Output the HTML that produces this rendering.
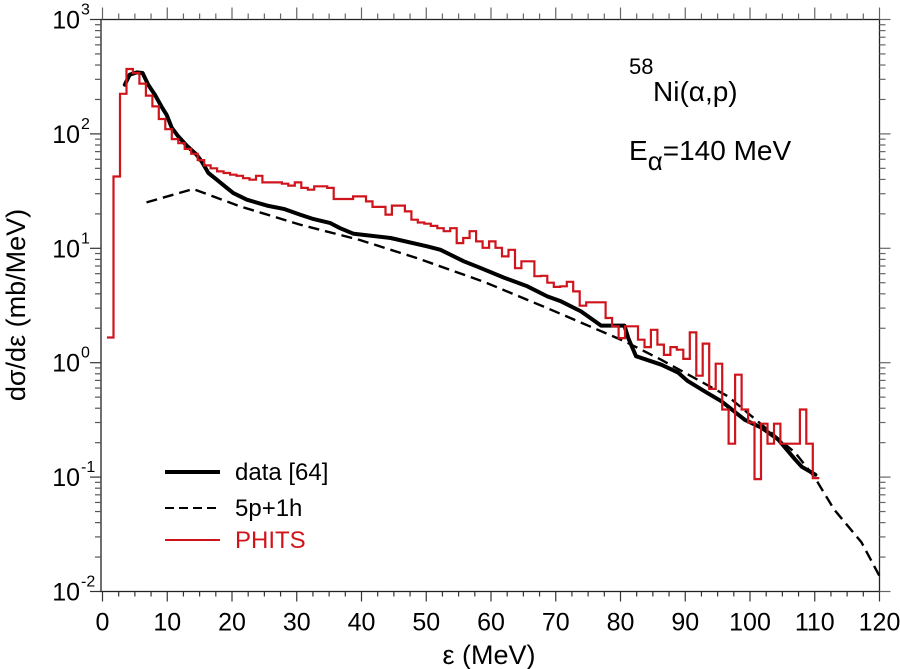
<!DOCTYPE html>
<html><head><meta charset="utf-8"><style>
html,body{margin:0;padding:0;background:#fff;}
svg{display:block;font-family:"Liberation Sans",Arial,sans-serif;}
</style></head><body>
<svg id="chart" width="900" height="669" viewBox="0 0 900 669" xmlns="http://www.w3.org/2000/svg">
<g id="axes"></g>
<g id="series"></g>
<g>
  <line x1="165" y1="472" x2="220" y2="472" stroke="#000" stroke-width="4"/>
  <text x="235" y="480" font-size="24">data [64]</text>
  <line x1="165" y1="508" x2="220" y2="508" stroke="#000" stroke-width="2" stroke-dasharray="9,5"/>
  <text x="235" y="516" font-size="24">5p+1h</text>
  <line x1="165" y1="540" x2="220" y2="540" stroke="#d0141c" stroke-width="2"/>
  <text x="235" y="548" font-size="24" fill="#d0141c">PHITS</text>
</g>
<g>
  <text x="629" y="74" font-size="22">58</text>
  <text x="653" y="101" font-size="28">Ni(α,p)</text>
  <text x="629" y="160" font-size="28">E<tspan font-size="26" dy="10">α</tspan><tspan dy="-10">=140 MeV</tspan></text>
</g>
<text transform="translate(25,305) rotate(-90)" text-anchor="middle" font-size="27">dσ/dε (mb/MeV)</text>
<text x="489" y="664" text-anchor="middle" font-size="27">ε (MeV)</text>
</svg>
<script>
// PHITS histogram: 1-MeV bins starting at binStart
const binStart = 0.7;
const phitsValues = [1.66,42.4,224,369,341,275,216,174,135,110,90,83,74,67,59,53,50,47,45.5,44,43,41,39.8,43,37.7,37.7,37.7,36.7,35.3,37.7,33.7,32.5,34.8,34.8,33.7,27,27,27,28.4,28.4,25.7,23,23,19.7,23.6,23.6,21,17.8,16.8,16.4,15.7,15,14.1,15,11.1,12.3,14.1,11.5,10.1,11.5,10.1,8.5,9.7,6.7,7.7,7.7,5.7,5.75,5.0,4.6,4.65,5.1,4.2,3.15,3.37,3.37,3.37,2.46,2.08,1.64,2.08,2.08,1.59,1.37,1.94,1.44,1.17,1.37,1.30,1.08,1.84,0.77,1.47,0.59,0.98,0.39,0.196,0.785,0.39,0.30,0.096,0.293,0.196,0.293,0.196,0.196,0.196,0.39,0.196,0.098];
// experimental data curve
const dataE = [3.45,4.2,5.3,6.2,7.06,8.1,9.1,9.9,10.7,11.7,13,14.5,15.3,16.35,17.65,18.9,20.2,22.3,25.4,28,30.5,32.6,35.2,36.7,38.8,39.8,44.5,50.2,52.2,55.8,57.9,62.0,65.6,68.7,70.8,73.9,77.0,80.6,81.2,82.4,86.3,88.9,90.4,93.5,95.6,99.2,101.8,104.4,107.0,108.0,110.1];
const dataV = [269,329,345,341,269,220,174,147,113,95,79,66,57.5,45.5,39.8,34.8,30.4,26.6,23.6,22.1,19.7,18.0,16.6,15.0,13.4,13.2,12.3,10.4,9.7,7.7,6.9,5.55,4.65,3.8,3.44,2.81,2.11,2.11,1.64,1.14,0.96,0.82,0.69,0.54,0.46,0.317,0.27,0.212,0.142,0.123,0.105];
// 5p+1h calculation
const calcE = [6.8,14.0,21.2,30.5,39.8,48.6,58.9,69.3,80.6,86.3,96.6,107,110,113,117.2,120.2];
const calcV = [25.2,33,23.3,16.1,11.8,8.2,5.1,2.9,1.54,1.06,0.507,0.163,0.099,0.052,0.027,0.013];
const xTicks = [0,10,20,30,40,50,60,70,80,90,100,110,120];
const yExps = [-2,-1,0,1,2,3];

const NS = "http://www.w3.org/2000/svg";
const L = 101, R = 879.5, T = 19.5, B = 591.5;
const X0 = 102.5;
function sx(e){ return X0 + (e) * (R - X0) / 120; }
function sy(v){ return B - (Math.log10(v) + 2) * (B - T) / 5; }
function mk(tag, attrs, parent){ const el = document.createElementNS(NS, tag); for (const k in attrs) el.setAttribute(k, attrs[k]); parent.appendChild(el); return el; }
const axes = document.getElementById('axes');
const series = document.getElementById('series');

const frame = mk('rect', {x:L, y:T, width:R-L, height:B-T, fill:'none', stroke:'#222', 'stroke-width':1.3}, axes);



for (let e = 0; e <= 120.01; e += 2.5) {
  const major = Math.abs(e % 10) < 0.01;
  const len = major ? 10 : 5;
  const x = sx(e);
  const t1 = mk('line', {x1:x, y1:B, x2:x, y2:B+len, stroke:'#333', 'stroke-width':1.2}, axes);
  
  
  const t2 = mk('line', {x1:x, y1:T, x2:x, y2:T-(major?12:6), stroke:'#666', 'stroke-width':1.2}, axes);
  
  
}
xTicks.forEach(e => {
  const t = mk('text', {x:sx(e), y:B+39, 'text-anchor':'middle', 'font-size':25}, axes);
  t.textContent = String(e);
  
  
});
yExps.forEach((p, i) => {
  const y = sy(Math.pow(10, p));
  const tl = mk('line', {x1:L-11, y1:y, x2:L, y2:y, stroke:'#333', 'stroke-width':1.2}, axes);
  
  
  const tr = mk('line', {x1:R, y1:y, x2:R+11, y2:y, stroke:'#666', 'stroke-width':1.2}, axes);
  
  
  const lab = mk('text', {x:80, y:y+9, 'text-anchor':'end', 'font-size':25}, axes);
  lab.textContent = '10';
  
  
  const sup = mk('text', {x:81, y:y-5, 'text-anchor':'start', 'font-size':16}, axes);
  sup.textContent = String(p);
  
  
  if (i < yExps.length - 1) {
    for (let m = 2; m <= 9; m++) {
      const ym = sy(m * Math.pow(10, p));
      const a = mk('line', {x1:L-6, y1:ym, x2:L, y2:ym, stroke:'#555', 'stroke-width':1.2}, axes);
      
      
      const b = mk('line', {x1:R, y1:ym, x2:R+6, y2:ym, stroke:'#666', 'stroke-width':1.2}, axes);
      
      
    }
  }
});

let d = calcE.map((e,i)=>(i?'L':'M')+sx(e).toFixed(1)+','+sy(calcV[i]).toFixed(1)).join(' ');
const calc = mk('path', {d:d, fill:'none', stroke:'#000', 'stroke-width':2.4, 'stroke-dasharray':'11,6'}, series);



d = dataE.map((e,i)=>(i?'L':'M')+sx(e).toFixed(1)+','+sy(dataV[i]).toFixed(1)).join(' ');
const dl = mk('path', {d:d, fill:'none', stroke:'#000', 'stroke-width':4, 'stroke-linejoin':'round', 'stroke-linecap':'round'}, series);



let hp = '';
phitsValues.forEach((v,i)=>{
  const x1 = sx(binStart + i), x2 = sx(binStart + i + 1), y = sy(v);
  hp += (i ? 'L' : 'M') + x1.toFixed(1) + ',' + y.toFixed(1) + ' L' + x2.toFixed(1) + ',' + y.toFixed(1) + ' ';
});
const ph = mk('path', {d:hp, fill:'none', stroke:'#d0141c', 'stroke-width':2.2}, series);


</script>
</body></html>
